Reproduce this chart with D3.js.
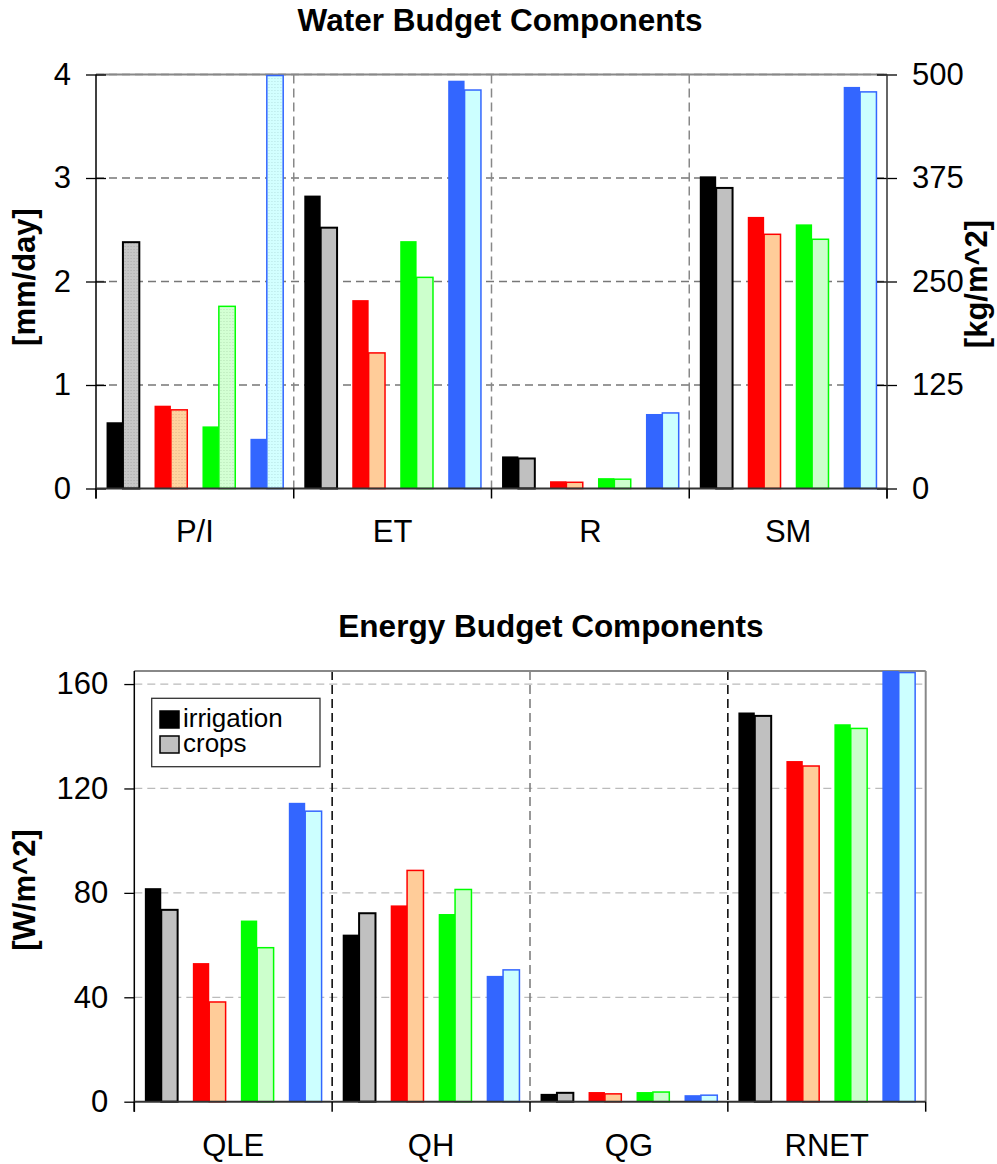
<!DOCTYPE html>
<html>
<head>
<meta charset="utf-8">
<script src="https://cdn.jsdelivr.net/npm/d3@7/dist/d3.min.js"></script>
<style>
  body { margin: 0; background: #fff; }
  text { font-family: "Liberation Sans", Arial, sans-serif; }
</style>
</head>
<body>
<div id="chart"></div>
<script>
// four model runs, each shown as irrigation / crops pair
const runs = ["run1", "run2", "run3", "run4"];
const seriesNames = ["irrigation", "crops"];

const waterCategories = ["P/I", "ET", "R", "SM"];
// P/I, ET, R in mm/day (left axis), SM in kg/m^2 (right axis)
const waterIrrigation = [
    [0.64, 0.80, 0.60, 0.48],
    [2.83, 1.82, 2.39, 3.94],
    [0.31, 0.07, 0.10, 0.72],
    [377, 328, 319, 485]
];
const waterCrops = [
    [2.38, 0.76, 1.76, 3.99],
    [2.52, 1.31, 2.04, 3.85],
    [0.29, 0.06, 0.09, 0.73],
    [363, 307, 301, 479]
];
const waterTicks = [0, 1, 2, 3, 4];
const smTicks = [0, 125, 250, 375, 500];

const energyCategories = ["QLE", "QH", "QG", "RNET"];
const energyIrrigation = [
    [81.8, 53.1, 69.4, 114.5],
    [64.0, 75.2, 71.9, 48.2],
    [3.0, 3.7, 3.7, 2.5],
    [149.1, 130.5, 144.6, 165]
];
const energyCrops = [
    [73.5, 38.2, 59.0, 111.3],
    [72.2, 88.6, 81.3, 50.5],
    [3.4, 3.0, 3.7, 2.5],
    [147.8, 128.6, 143.0, 164.4]
];
const energyTicks = [0, 40, 80, 120, 160];

const irrigationColors = ["#000000", "#FF0000", "#00FF00", "#3366FF"];
const cropColors = ["#C0C0C0", "#FFCC99", "#CCFFCC", "#CCFFFF"];

const svg = d3.select("#chart").append("svg")
    .attr("width", 997)
    .attr("height", 1164);

svg.append("rect").attr("width", 997).attr("height", 1164).attr("fill", "#fff");

// stippled fills used for the P/I crops bars
const defs = svg.append("defs");
cropColors.forEach((c, j) => {
    const p = defs.append("pattern")
        .attr("id", "stip" + j)
        .attr("patternUnits", "userSpaceOnUse")
        .attr("width", 3).attr("height", 3);
    p.append("rect").attr("width", 3).attr("height", 3).attr("fill", d3.color(c).brighter(0.1));
    p.append("rect").attr("x", 0).attr("y", 0).attr("width", 1).attr("height", 1)
        .attr("fill", d3.color(c).darker(0.35));
});

function drawPanel(opt) {
    const g = svg.append("g");
    const { left, right, top, bottom } = opt;

    const x = d3.scaleBand().domain(opt.categories).range([left, right]);
    const xRun = d3.scaleBand().domain(runs).range([0, x.bandwidth()])
        .paddingInner(0.317).paddingOuter(0.22);
    const barW = xRun.bandwidth() / 2;

    // horizontal grid
    g.append("g").selectAll("line")
        .data(opt.ticks.slice(1))
        .join("line")
        .attr("x1", left).attr("x2", right)
        .attr("y1", d => opt.y(d)).attr("y2", d => opt.y(d))
        .attr("stroke", opt.gridColor)
        .attr("stroke-width", 1.3)
        .attr("stroke-dasharray", "8,5");

    // category dividers
    g.append("g").selectAll("line")
        .data(opt.categories.slice(1))
        .join("line")
        .attr("x1", d => x(d)).attr("x2", d => x(d))
        .attr("y1", top).attr("y2", bottom)
        .attr("stroke", (d, i) => opt.dividerColors[i])
        .attr("stroke-width", 1.5)
        .attr("stroke-dasharray", "9,5");

    // top border
    g.append("line")
        .attr("x1", left).attr("x2", right)
        .attr("y1", top).attr("y2", top)
        .attr("stroke", "#888").attr("stroke-width", 2);

    const rows = opt.categories.flatMap((c, i) => runs.map((r, j) => ({
        cat: c, i, run: r, j,
        irr: opt.irrigation[i][j],
        crop: opt.crops[i][j]
    })));

    const bars = g.append("g").selectAll("g")
        .data(rows)
        .join("g")
        .attr("transform", d => `translate(${x(d.cat) + xRun(d.run)},0)`);

    bars.append("rect")
        .attr("x", 0)
        .attr("y", d => opt.yFor(d.i)(d.irr))
        .attr("width", barW)
        .attr("height", d => bottom - opt.yFor(d.i)(d.irr))
        .attr("fill", d => irrigationColors[d.j]);

    bars.append("rect")
        .attr("x", barW)
        .attr("y", d => opt.yFor(d.i)(d.crop))
        .attr("width", barW)
        .attr("height", d => bottom - opt.yFor(d.i)(d.crop))
        .attr("fill", d => (opt.stippled && d.i === 0) ? `url(#stip${d.j})` : cropColors[d.j])
        .attr("stroke", d => irrigationColors[d.j])
        .attr("stroke-width", d => d.j === 0 ? 2 : 1.5);

    // left axis
    const yAxis = g.append("g")
        .attr("transform", `translate(${left},0)`)
        .call(d3.axisLeft(opt.y).tickValues(opt.ticks).tickFormat(d3.format("d"))
            .tickSize(10).tickPadding(opt.tickPad));
    yAxis.select(".domain").remove();
    yAxis.selectAll(".tick line").attr("x1", opt.crossTicks ? 10 : 0)
        .attr("stroke", "#000").attr("stroke-width", 1.3);
    yAxis.selectAll(".tick text").attr("font-size", 31).attr("fill", "#000");

    g.append("line")
        .attr("x1", left).attr("x2", left)
        .attr("y1", top).attr("y2", bottom + 10)
        .attr("stroke", "#000").attr("stroke-width", 1.5);

    // right axis / border
    if (opt.yRight) {
        const rAxis = g.append("g")
            .attr("transform", `translate(${right},0)`)
            .call(d3.axisRight(opt.yRight).tickValues(opt.rightTicks).tickFormat(d3.format("d"))
                .tickSize(10).tickPadding(15));
        rAxis.select(".domain").remove();
        rAxis.selectAll(".tick line").attr("x1", -10)
            .attr("stroke", "#000").attr("stroke-width", 1.3);
        rAxis.selectAll(".tick text").attr("font-size", 31).attr("fill", "#000");
        g.append("line")
            .attr("x1", right).attr("x2", right)
            .attr("y1", top).attr("y2", bottom + 10)
            .attr("stroke", "#333").attr("stroke-width", 1.5);
    } else {
        g.append("line")
            .attr("x1", right).attr("x2", right)
            .attr("y1", top).attr("y2", bottom)
            .attr("stroke", "#888").attr("stroke-width", 2);
    }

    // bottom axis with category labels
    const xAxis = g.append("g")
        .attr("transform", `translate(0,${bottom})`)
        .call(d3.axisBottom(x).tickSize(0).tickPadding(opt.labelPad));
    xAxis.select(".domain").remove();
    xAxis.selectAll(".tick text").attr("font-size", 31).attr("fill", "#000");

    g.append("line")
        .attr("x1", left).attr("x2", right)
        .attr("y1", bottom).attr("y2", bottom)
        .attr("stroke", "#333").attr("stroke-width", 2);

    g.append("g").selectAll("line")
        .data(opt.categories.map(c => x(c)).concat([right]))
        .join("line")
        .attr("x1", d => d).attr("x2", d => d)
        .attr("y1", bottom).attr("y2", bottom + 10)
        .attr("stroke", "#000").attr("stroke-width", 1.5);

    // title
    g.append("text")
        .attr("x", opt.titleX).attr("y", opt.titleY)
        .attr("text-anchor", "middle")
        .attr("font-size", 31.5)
        .attr("font-weight", "bold")
        .text(opt.title);

    // y titles
    opt.yTitles.forEach(t => {
        g.append("text")
            .attr("transform", `translate(${t.x},${t.y}) rotate(-90)`)
            .attr("text-anchor", "middle")
            .attr("font-size", 31)
            .attr("font-weight", "bold")
            .text(t.text);
    });

    return { x, g };
}

// water budget
const yWater = d3.scaleLinear().domain([0, 4]).range([488.5, 74.5]);
const ySM = d3.scaleLinear().domain([0, 500]).range([488.5, 74.5]);

drawPanel({
    categories: waterCategories,
    irrigation: waterIrrigation,
    crops: waterCrops,
    left: 96, right: 887, top: 74.5, bottom: 488.5,
    y: yWater,
    yRight: ySM,
    rightTicks: smTicks,
    yFor: i => waterCategories[i] === "SM" ? ySM : yWater,
    ticks: waterTicks,
    crossTicks: true,
    tickPad: 15,
    labelPad: 31,
    gridColor: "#777",
    dividerColors: ["#888", "#888", "#888"],
    stippled: true,
    title: "Water Budget Components",
    titleX: 500, titleY: 31,
    yTitles: [
        { text: "[mm/day]", x: 35, y: 277 },
        { text: "[kg/m^2]", x: 987, y: 284 }
    ]
});

// energy budget
const yEnergy = d3.scaleLinear().domain([0, 165]).range([1101.7, 671]);

drawPanel({
    categories: energyCategories,
    irrigation: energyIrrigation,
    crops: energyCrops,
    left: 134.3, right: 925.7, top: 671, bottom: 1101.7,
    y: yEnergy,
    yFor: () => yEnergy,
    ticks: energyTicks,
    crossTicks: false,
    tickPad: 16,
    labelPad: 32,
    gridColor: "#bbb",
    dividerColors: ["#000", "#777", "#000"],
    stippled: false,
    title: "Energy Budget Components",
    titleX: 551, titleY: 637,
    yTitles: [
        { text: "[W/m^2]", x: 35, y: 890 }
    ]
});

// legend
const legend = svg.append("g");
legend.append("rect")
    .attr("x", 151.7).attr("y", 698.3)
    .attr("width", 168.3).attr("height", 68.4)
    .attr("fill", "#fff").attr("stroke", "#333").attr("stroke-width", 1.3);

const legendRows = legend.selectAll("g.item")
    .data(seriesNames)
    .join("g")
    .attr("class", "item")
    .attr("transform", (d, i) => `translate(160,${711 + i * 25})`);

legendRows.append("rect")
    .attr("width", 19).attr("height", 17)
    .attr("fill", (d, i) => i === 0 ? irrigationColors[0] : cropColors[0])
    .attr("stroke", "#000").attr("stroke-width", 1.5);

legendRows.append("text")
    .attr("x", 23).attr("y", 16)
    .attr("font-size", 26)
    .text(d => d);
</script>
</body>
</html>
